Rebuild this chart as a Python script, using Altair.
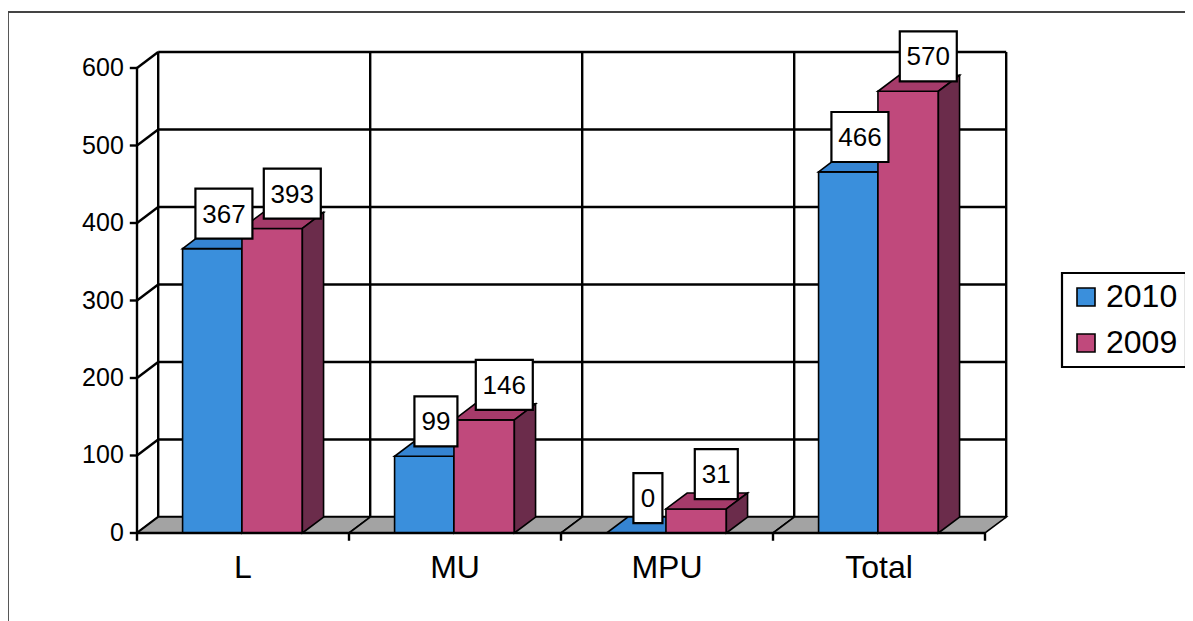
import altair as alt
import pandas as pd

# ---- data ----
categories = ["L", "MU", "MPU", "Total"]
series = ["2010", "2009"]
values_2010 = [367, 99, 0, 466]
values_2009 = [393, 146, 31, 570]
y_ticks = [0, 100, 200, 300, 400, 500, 600]

# ---- layout / style constants ----
N = len(categories)
Y_MAX = 600
DX = 0.1       # 3-D depth along x (category units)
DY = 20.6      # 3-D depth along y (value units)
BAR = {"2010": (0.215, 0.495), "2009": (0.495, 0.78)}
LABEL_SHIFT = {"2010": 0.055, "2009": 0.095}
LABEL_RISE = 45
FACE = {
    "2010": {"front": "#3a8fdc", "top": "#3584d2", "side": "#245f99"},
    "2009": {"front": "#c0497c", "top": "#a53b6a", "side": "#6b2c4b"},
}
FONT = "Liberation Sans"
W, H = 1177, 609
XS = alt.Scale(domain=[-0.6085, 4.9434], nice=False, zero=False)
YS = alt.Scale(domain=[-113.55, 672.26], nice=False, zero=False)

vals = {"2010": values_2010, "2009": values_2009}


def X(f):
    return alt.X(f, type="quantitative", scale=XS, axis=None)


def Y(f):
    return alt.Y(f, type="quantitative", scale=YS, axis=None)


# ---- derived tables ----
fronts, tops, sides, labels = {s: [] for s in series}, {s: [] for s in series}, {s: [] for s in series}, []
box_shape = {
    1: "M-0.58,-1L0.58,-1L0.58,1L-0.58,1Z",
    2: "M-0.86,-1L0.86,-1L0.86,1L-0.86,1Z",
    3: "M-1.14,-1L1.14,-1L1.14,1L-1.14,1Z",
}
for s in series:
    a, b = BAR[s]
    for i, (c, v) in enumerate(zip(categories, vals[s])):
        xl, xr = i + a, i + b
        fronts[s].append({"x": xl, "x2": xr, "y": 0, "y2": v, "series": s})
        gid = f"{s}-{c}"
        tops[s] += [
            {"id": gid, "x": xl, "lo": v, "hi": v},
            {"id": gid, "x": xl + DX, "lo": v, "hi": v + DY},
            {"id": gid, "x": xr, "lo": v, "hi": v + DY},
            {"id": gid, "x": xr + DX, "lo": v + DY, "hi": v + DY},
        ]
        sides[s] += [
            {"id": gid, "x": xr, "lo": 0, "hi": v},
            {"id": gid, "x": xr + DX, "lo": DY, "hi": v + DY},
        ]
        txt = str(v)
        labels.append({"x": (xl + xr) / 2 + LABEL_SHIFT[s], "y": v + LABEL_RISE,
                       "text": txt, "box": box_shape[len(txt)]})

floor = []
for i, c in enumerate(categories):
    floor += [
        {"id": c, "x": i, "lo": 0, "hi": 0},
        {"id": c, "x": i + DX, "lo": 0, "hi": DY},
        {"id": c, "x": i + 1, "lo": 0, "hi": DY},
        {"id": c, "x": i + 1 + DX, "lo": DY, "hi": DY},
    ]

back_h = pd.DataFrame([{"x": DX, "x2": N + DX, "y": t + DY} for t in y_ticks])
side_diag = pd.DataFrame([{"x": 0, "x2": DX, "y": t, "y2": t + DY} for t in y_ticks])
back_v = pd.DataFrame([{"x": i + DX, "y": DY, "y2": Y_MAX + DY} for i in range(N + 1)])
front_axis_y = pd.DataFrame([{"x": 0, "y": 0, "y2": Y_MAX}])
front_axis_x = pd.DataFrame([{"x": 0, "x2": N, "y": 0}])
ytick_df = pd.DataFrame([{"x": -0.034, "x2": 0, "y": t, "label": str(t)} for t in y_ticks])
xtick_df = pd.DataFrame([{"x": i, "y": 0, "y2": -10} for i in range(N + 1)])
cat_df = pd.DataFrame([{"x": i + 0.5, "y": 0, "label": c} for i, c in enumerate(categories)])
label_df = pd.DataFrame(labels)

GRID = dict(color="black", strokeWidth=2.4)
EDGE = dict(stroke="black", strokeWidth=1.6, opacity=1)

layers = []
# back wall grid
layers.append(alt.Chart(back_h).mark_rule(**GRID).encode(x=X("x"), x2="x2", y=Y("y")))
layers.append(alt.Chart(side_diag).mark_rule(**GRID).encode(x=X("x"), x2="x2", y=Y("y"), y2="y2"))
layers.append(alt.Chart(back_v).mark_rule(**GRID).encode(x=X("x"), y=Y("y"), y2="y2"))
# floor
layers.append(
    alt.Chart(pd.DataFrame(floor)).mark_area(orient="vertical", color="#a3a3a3", **EDGE)
    .encode(x=X("x"), y=Y("lo"), y2="hi", detail="id:N")
)
# bars
for s in series:
    layers.append(
        alt.Chart(pd.DataFrame(fronts[s])).mark_rect(**EDGE)
        .encode(
            x=X("x"), x2="x2", y=Y("y"), y2="y2",
            color=alt.Color("series:N", scale=alt.Scale(domain=series,
                                                        range=[FACE[k]["front"] for k in series]),
                            sort=series, legend=alt.Legend(title=None, orient="none",
                                                           legendX=1054, legendY=261)),
        )
    )
    layers.append(
        alt.Chart(pd.DataFrame(tops[s])).mark_area(orient="vertical", color=FACE[s]["top"], **EDGE)
        .encode(x=X("x"), y=Y("lo"), y2="hi", detail="id:N")
    )
    layers.append(
        alt.Chart(pd.DataFrame(sides[s])).mark_area(orient="vertical", color=FACE[s]["side"], **EDGE)
        .encode(x=X("x"), y=Y("lo"), y2="hi", detail="id:N")
    )
# front axes and ticks
layers.append(alt.Chart(front_axis_y).mark_rule(**GRID).encode(x=X("x"), y=Y("y"), y2="y2"))
layers.append(alt.Chart(front_axis_x).mark_rule(**GRID).encode(x=X("x"), x2="x2", y=Y("y")))
layers.append(alt.Chart(ytick_df).mark_rule(**GRID).encode(x=X("x"), x2="x2", y=Y("y")))
layers.append(alt.Chart(xtick_df).mark_rule(**GRID).encode(x=X("x"), y=Y("y"), y2="y2"))
layers.append(
    alt.Chart(ytick_df).mark_text(align="right", baseline="middle", dx=-6, fontSize=25,
                                  font=FONT, color="black")
    .encode(x=X("x"), y=Y("y"), text="label:N")
)
layers.append(
    alt.Chart(cat_df).mark_text(align="center", baseline="alphabetic", dy=45, fontSize=32,
                                font=FONT, color="black")
    .encode(x=X("x"), y=Y("y"), text="label:N")
)
# data labels
layers.append(
    alt.Chart(label_df).mark_point(filled=True, fill="white", stroke="black", strokeWidth=2.2,
                                   size=2500, opacity=1)
    .encode(x=X("x"), y=Y("y"), shape=alt.Shape("box:N", scale=None))
)
layers.append(
    alt.Chart(label_df).mark_text(align="center", baseline="middle", dy=1, fontSize=26,
                                  font=FONT, color="black")
    .encode(x=X("x"), y=Y("y"), text="text:N")
)
# outer frame (top and left)
frame = pd.DataFrame([{"k": 0}])
layers.append(alt.Chart(frame).mark_rule(color="#444", strokeWidth=1.8)
              .encode(x=alt.value(0), x2=alt.value(W), y=alt.value(0)))
layers.append(alt.Chart(frame).mark_rule(color="#444", strokeWidth=1.8)
              .encode(x=alt.value(0), y=alt.value(0), y2=alt.value(H)))

chart = (
    alt.layer(*layers)
    .properties(width=W, height=H, padding={"left": 0, "top": 4, "right": 0, "bottom": 0},
                autosize=alt.AutoSizeParams(type="none"))
    .configure_view(stroke=None)
    .configure_legend(
        strokeColor="black", strokeWidth=2.2, padding=8, fillColor="white",
        symbolType="square", symbolSize=324, symbolStrokeColor="black", symbolStrokeWidth=1.6,
        symbolOpacity=1, labelFontSize=32, labelFont=FONT, labelColor="black",
        rowPadding=14, labelOffset=4, labelLimit=200,
    )
)

chart.save("out.html", embed_options={"renderer": "svg", "actions": False})
